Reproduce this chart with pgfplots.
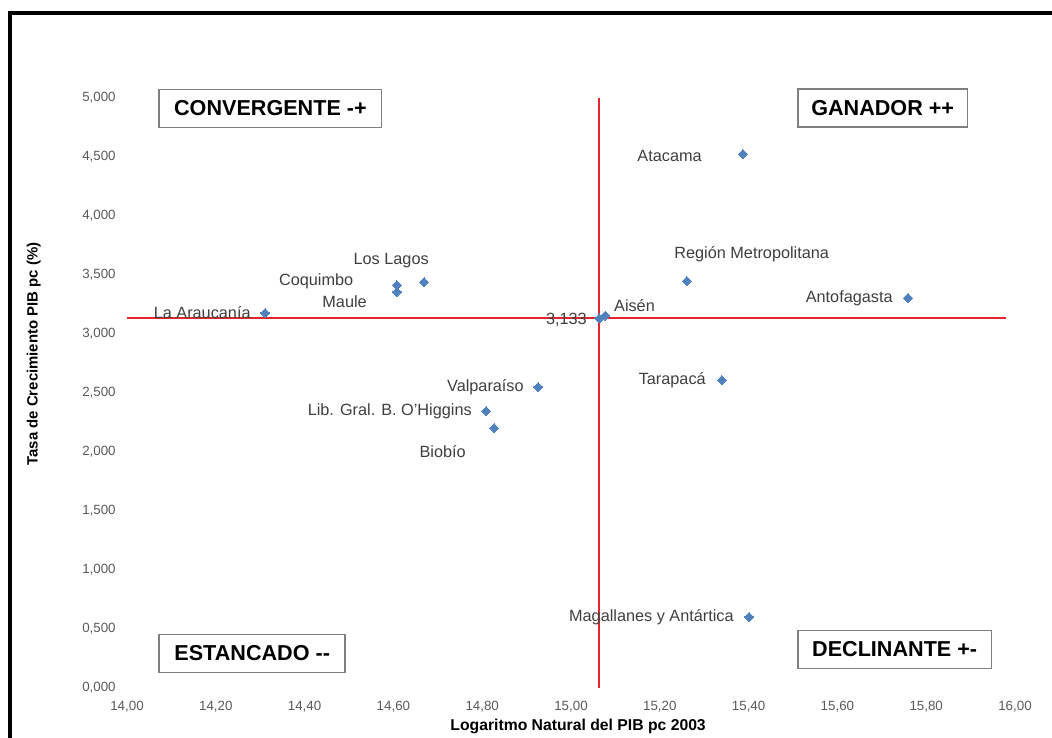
\documentclass[border=0pt]{standalone}
\usepackage{pgfplots}
\pgfplotsset{compat=1.18}
\usepackage{fontspec}
\setmainfont{Liberation Sans}

\definecolor{cpoint}{HTML}{4F81BD}
\definecolor{cref}{HTML}{E3262D}
\definecolor{clabel}{HTML}{3F3F3F}
\definecolor{ctick}{HTML}{595959}
\definecolor{cbox}{HTML}{7F7F7F}

\begin{document}
\begin{tikzpicture}
  \useasboundingbox (0,0) rectangle (789pt,553.5pt);
  \begin{axis}[
      at={(95.25pt,37.5pt)}, anchor=south west,
      scale only axis, width=666pt, height=442.5pt,
      xmin=14, xmax=16, ymin=0, ymax=5,
      clip=false,
      axis line style={draw=none},
      major tick length=0pt,
      xtick={14,14.2,14.4,14.6,14.8,15,15.2,15.4,15.6,15.8,16},
      xticklabels={{14,00},{14,20},{14,40},{14,60},{14,80},{15,00},{15,20},{15,40},{15,60},{15,80},{16,00}},
      ytick={0,0.5,1,1.5,2,2.5,3,3.5,4,4.5,5},
      yticklabels={{0,000},{0,500},{1,000},{1,500},{2,000},{2,500},{3,000},{3,500},{4,000},{4,500},{5,000}},
      tick label style={font=\fontsize{10}{12}\selectfont, text=ctick},
      xticklabel style={anchor=center, yshift=-14.25pt},
      yticklabel style={anchor=east, xshift=-5pt},
      xlabel={Logaritmo Natural del PIB pc 2003},
      xlabel style={at={(axis description cs:0.508,-0.066)}, anchor=center,
        font=\fontsize{11.8}{13}\selectfont\bfseries},
      ylabel={Tasa de Crecimiento PIB pc (\%)},
      ylabel style={at={(axis description cs:-0.105,0.566)}, anchor=center,
        font=\fontsize{11.2}{13}\selectfont\bfseries},
    ]
    % reference lines at the means
    \addplot[color=cref, line width=1.5pt] coordinates {(15.064,0) (15.064,5)};
    \addplot[color=cref, line width=1.5pt] coordinates {(14,3.133) (15.98,3.133)};

    % regions
    \addplot[only marks, mark=square*, mark size=2.4pt, color=cpoint,
      mark options={rotate=45, fill=cpoint, draw=cpoint, line width=0pt}] coordinates {
      (14.311,3.178) % La Araucania
      (14.608,3.415) % Coquimbo
      (14.608,3.356) % Maule
      (14.669,3.440) % Los Lagos
      (14.926,2.551) % Valparaiso
      (14.809,2.347) % O'Higgins
      (14.827,2.203) % Biobio
      (15.064,3.133) % media
      (15.077,3.155) % Aisen
      (15.387,4.525) % Atacama
      (15.261,3.449) % Region Metropolitana
      (15.759,3.305) % Antofagasta
      (15.340,2.610) % Tarapaca
      (15.401,0.602) % Magallanes
    };

    \begin{scope}[every node/.style={font=\fontsize{12.2}{14}\selectfont, text=clabel, inner sep=0pt}]
      \node[anchor=east] at (axis cs:14.279,3.178) {La Araucanía};
      \node at (axis cs:14.426,3.449) {Coquimbo};
      \node at (axis cs:14.490,3.271) {Maule};
      \node at (axis cs:14.595,3.619) {Los Lagos};
      \node[anchor=east] at (axis cs:14.894,2.551) {Valparaíso};
      \node[anchor=east] at (axis cs:14.777,2.347) {Lib. Gral. B. O'Higgins};
      \node at (axis cs:14.711,2.000) {Biobío};
      \node[anchor=east] at (axis cs:15.036,3.119) {3,133};
      \node at (axis cs:15.143,3.237) {Aisén};
      \node at (axis cs:15.222,4.508) {Atacama};
      \node at (axis cs:15.407,3.678) {Región Metropolitana};
      \node[anchor=east] at (axis cs:15.725,3.305) {Antofagasta};
      \node[anchor=east] at (axis cs:15.304,2.610) {Tarapacá};
      \node[anchor=east] at (axis cs:15.367,0.602) {Magallanes y Antártica};
    \end{scope}

    \begin{scope}[every node/.style={draw=cbox, line width=1.1pt, fill=white,
        font=\fontsize{16.2}{18}\selectfont\bfseries, text=black, minimum height=28.5pt}]
      \node[minimum width=167pt] at (axis cs:14.323,4.911) {CONVERGENTE -+};
      \node[minimum width=127pt] at (axis cs:15.702,4.915) {GANADOR ++};
      \node[minimum width=139.5pt] at (axis cs:14.282,0.292) {ESTANCADO -{}-};
      \node[minimum width=145pt] at (axis cs:15.729,0.326) {DECLINANTE +-};
    \end{scope}
  \end{axis}
  % outer frame (left and top edges)
  \draw[line width=2.4pt] (7.5pt,0pt) -- (7.5pt,543.75pt) -- (800pt,543.75pt);
\end{tikzpicture}
\end{document}
